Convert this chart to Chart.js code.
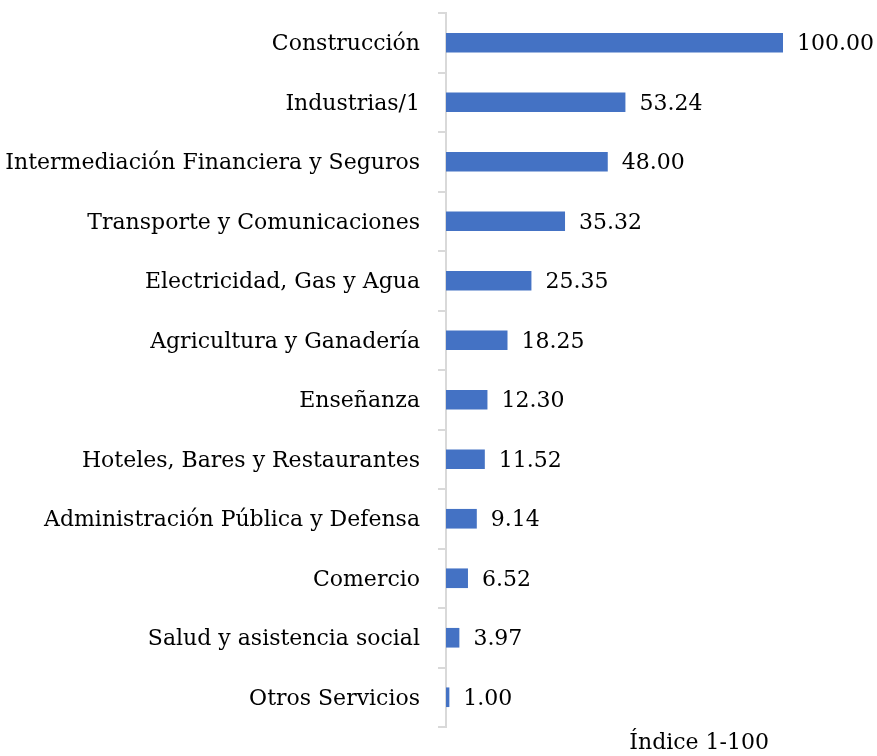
<!DOCTYPE html>
<html>
<head>
<meta charset="utf-8">
<script src="https://cdn.jsdelivr.net/npm/chart.js@4/dist/chart.umd.min.js"></script>
<style>
  html, body { margin: 0; padding: 0; background: #fff; }
  #wrap { width: 877px; height: 756px; }
</style>
</head>
<body>
<div id="wrap"><canvas id="chart"></canvas></div>
<script>
// Datos del gráfico
const sectores = [
    'Construcción', 'Industrias/1', 'Intermediación Financiera y Seguros',
    'Transporte y Comunicaciones', 'Electricidad, Gas y Agua', 'Agricultura y Ganadería',
    'Enseñanza', 'Hoteles, Bares y Restaurantes', 'Administración Pública y Defensa',
    'Comercio', 'Salud y asistencia social', 'Otros Servicios'
];
const indices = [100.00, 53.24, 48.00, 35.32, 25.35, 18.25, 12.30, 11.52, 9.14, 6.52, 3.97, 1.00];
const tituloEje = 'Índice 1-100';

const fuente = "'DejaVu Serif', serif";

// Etiquetas de valor al final de cada barra
const etiquetasValor = {
    id: 'etiquetasValor',
    afterDatasetsDraw(chart) {
        const ctx = chart.ctx;
        const meta = chart.getDatasetMeta(0);
        ctx.save();
        ctx.font = '22px ' + fuente;
        ctx.fillStyle = '#000';
        ctx.textAlign = 'left';
        ctx.textBaseline = 'middle';
        meta.data.forEach((bar, i) => {
            ctx.fillText(indices[i].toFixed(2), bar.x + 14, bar.y + 2);
        });
        ctx.restore();
    }
};

new Chart(document.getElementById('chart'), {
    type: 'bar',
    data: {
        labels: sectores,
        datasets: [{
            data: indices,
            backgroundColor: '#4472c4',
            borderWidth: 0,
            barPercentage: 0.66,
            categoryPercentage: 0.5
        }]
    },
    options: {
        indexAxis: 'y',
        responsive: true,
        maintainAspectRatio: false,
        animation: false,
        layout: { padding: { top: 13, right: 94, left: 0, bottom: 0 } },
        plugins: {
            legend: { display: false },
            tooltip: { enabled: false }
        },
        scales: {
            x: {
                min: 0,
                max: 100,
                grid: { display: false },
                border: { display: false },
                ticks: { display: false },
                afterFit(scale) {
                    scale.height = 29;
                    scale.paddingLeft = 0;
                    scale.paddingRight = 0;
                },
                title: {
                    display: true,
                    text: tituloEje + '  ',
                    align: 'end',
                    color: '#000',
                    font: { family: fuente, size: 22 },
                    padding: { top: 3, bottom: 0 }
                }
            },
            y: {
                afterFit(scale) {
                    scale.width = 446;
                    scale.paddingTop = 0;
                    scale.paddingBottom = 0;
                },
                grid: {
                    drawOnChartArea: false,
                    drawTicks: true,
                    tickLength: 8,
                    color: '#d9d9d9',
                    lineWidth: 2
                },
                border: { display: true, color: '#d9d9d9', width: 2 },
                ticks: {
                    color: '#000',
                    padding: 18,
                    labelOffset: 2,
                    font: { family: fuente, size: 22 }
                }
            }
        }
    },
    plugins: [etiquetasValor]
});
</script>
</body>
</html>
